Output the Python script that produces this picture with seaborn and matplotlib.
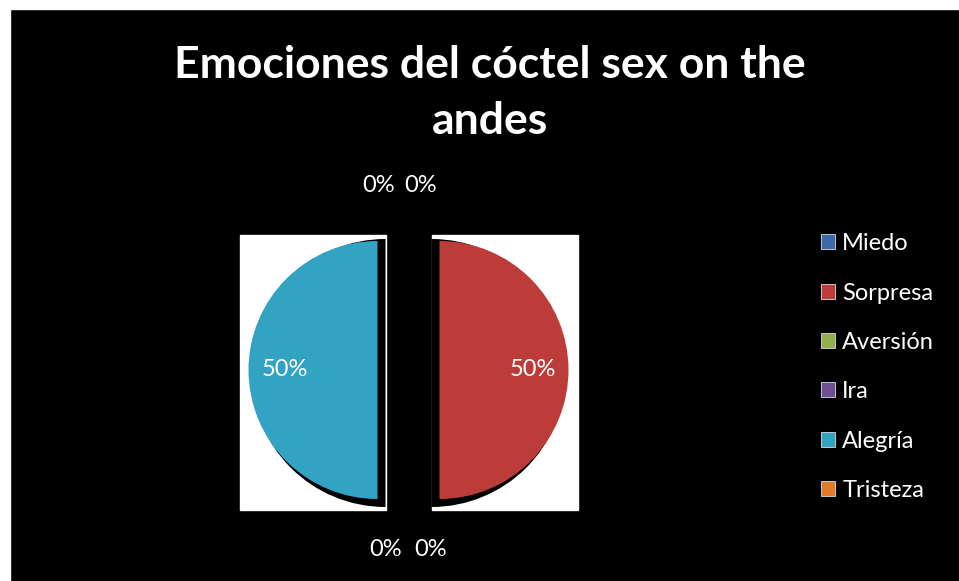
import matplotlib
matplotlib.use("Agg")
import matplotlib.pyplot as plt
from matplotlib.patches import Rectangle, Wedge
import seaborn as sns

emociones = ["Miedo", "Sorpresa", "Aversión", "Ira", "Alegría", "Tristeza"]
porcentajes = [0, 50, 0, 0, 50, 0]
colores = ["#3A6AAA", "#BC3C39", "#93AE4A", "#6A4F94", "#32A3C3", "#E07B2A"]
titulo = "Emociones del cóctel sex on the\nandes"

W, H = 959, 581


def fy(y):
    # pixel row (from top) -> data y
    return H - y


sns.set_theme(style="white")
plt.rcParams["font.family"] = ["Lato", "DejaVu Sans"]

fig = plt.figure(figsize=(W / 100, H / 100), dpi=100, facecolor="white")
ax = fig.add_axes([0, 0, 1, 1])

R = 129
cx, cy = 408.5, fy(370)
wedges, _, autotexts = ax.pie(
    porcentajes, colors=colores, startangle=90, counterclock=False,
    radius=R, center=(cx, cy), explode=[31] * len(porcentajes),
    autopct="%1.0f%%", pctdistance=0.72, frame=True,
    wedgeprops=dict(linewidth=0, zorder=4),
    textprops=dict(color="white", fontsize=17, zorder=6),
)
ax.set_xlim(0, W)
ax.set_ylim(0, H)
ax.set_aspect("auto")
ax.axis("off")

# chart area
ax.add_patch(Rectangle((10, -5), W, H - 4, facecolor="black", zorder=0,
                       clip_on=False))

# white boxes and dark shadows behind the non-empty halves
for w in wedges:
    if abs(w.theta2 - w.theta1) < 1e-6:
        continue
    wx, wy = w.center
    side = 1 if wx < cx else -1  # flat edge on the right for the left half
    left = wx - R - 9 if side == 1 else wx - 8
    ax.add_patch(Rectangle((left, wy - R - 11), R + 17, 2 * R + 17,
                           facecolor="white", zorder=2))
    ax.add_patch(Wedge((wx + 8 * side, wy - 3), R + 5, w.theta1, w.theta2,
                       facecolor="black", linewidth=0, zorder=3))

# zero labels: place outside, side by side
for t, v in zip(autotexts, porcentajes):
    if v == 0:
        t.set_visible(False)
zero_top = [i for i, v in enumerate(porcentajes) if v == 0 and i in (0, 5)]
zero_bot = [i for i, v in enumerate(porcentajes) if v == 0 and i in (2, 3)]
for grp, yy, dxs in [(zero_top, fy(186), [12, -30]), (zero_bot, fy(550), [-23, 22])]:
    for i, dx in zip(grp, dxs):
        ax.text(cx + dx, yy, f"{porcentajes[i]}%", color="white", fontsize=17,
                ha="center", va="center", zorder=6)

ax.text(490, fy(93), titulo, color="white", fontsize=32, fontweight="bold",
        ha="center", va="center", linespacing=1.5, zorder=6)

leg = ax.legend(wedges, emociones, loc="center left",
                bbox_to_anchor=(821 / W, 1 - 367 / H), frameon=False,
                fontsize=17, labelcolor="white", handlelength=0.6,
                handleheight=0.6, handletextpad=0.3, labelspacing=1.2,
                borderpad=0, borderaxespad=0)
for h in leg.legend_handles:
    h.set_edgecolor("#DDDDDD")
    h.set_linewidth(0.6)

fig.savefig("out.png", dpi=100, facecolor="white")
